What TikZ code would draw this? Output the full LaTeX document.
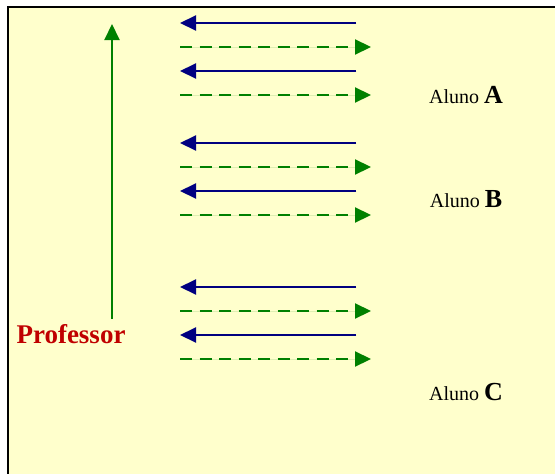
\documentclass[tikz,border=0pt]{standalone}
\usepackage{fontspec}
\setmainfont{Liberation Serif}
\usetikzlibrary{arrows.meta}
\definecolor{bgyellow}{HTML}{FFFFCC}
\definecolor{navyarrow}{HTML}{000080}
\definecolor{greenarrow}{HTML}{008000}
\definecolor{profred}{HTML}{C00000}
\tikzset{
  tipstyle/.style={-{Triangle[length=16pt,width=15pt]}},
  toprof/.style={tipstyle, draw=navyarrow, fill=navyarrow, line width=2pt},
  toaluno/.style={tipstyle, draw=greenarrow, fill=greenarrow, line width=2.2pt, dash pattern=on 12pt off 7.5pt},
  alunolbl/.style={anchor=center, font=\fontsize{20}{23}\selectfont},
}
\begin{document}
\begin{tikzpicture}[x=1pt,y=-1pt]
\useasboundingbox (0,0) rectangle (555,474);
\fill[bgyellow] (8,7) rectangle (555,474);
\draw[black, line width=2.5pt] (8,474) -- (8,7) -- (555,7);
% professor arrow
\coordinate (pb) at (112,319);
\coordinate (pt) at (112,24);
\draw[tipstyle, draw=greenarrow, fill=greenarrow, line width=2pt] (pb) -- (pt);
\node[text=profred, font=\bfseries\fontsize{27}{31}\selectfont] (prof) at (71,334) {Professor};
% arrows
\foreach \y [count=\i] in {23,71,143,191,287,335}{
  \coordinate (bs\i) at (356,\y);
  \coordinate (be\i) at (180,\y);
  \draw[toprof] (bs\i) -- (be\i);
  \coordinate (gs\i) at (180,\y+24);
  \coordinate (ge\i) at (371,\y+24);
  \draw[toaluno] (gs\i) -- (ge\i);
}
\node[alunolbl] (la) at (466,95) {Aluno {\bfseries\fontsize{26}{29}\selectfont A}};
\node[alunolbl] (lb) at (466,199) {Aluno {\bfseries\fontsize{26}{29}\selectfont B}};
\node[alunolbl] (lc) at (466,392) {Aluno {\bfseries\fontsize{26}{29}\selectfont C}};
\end{tikzpicture}
\end{document}
